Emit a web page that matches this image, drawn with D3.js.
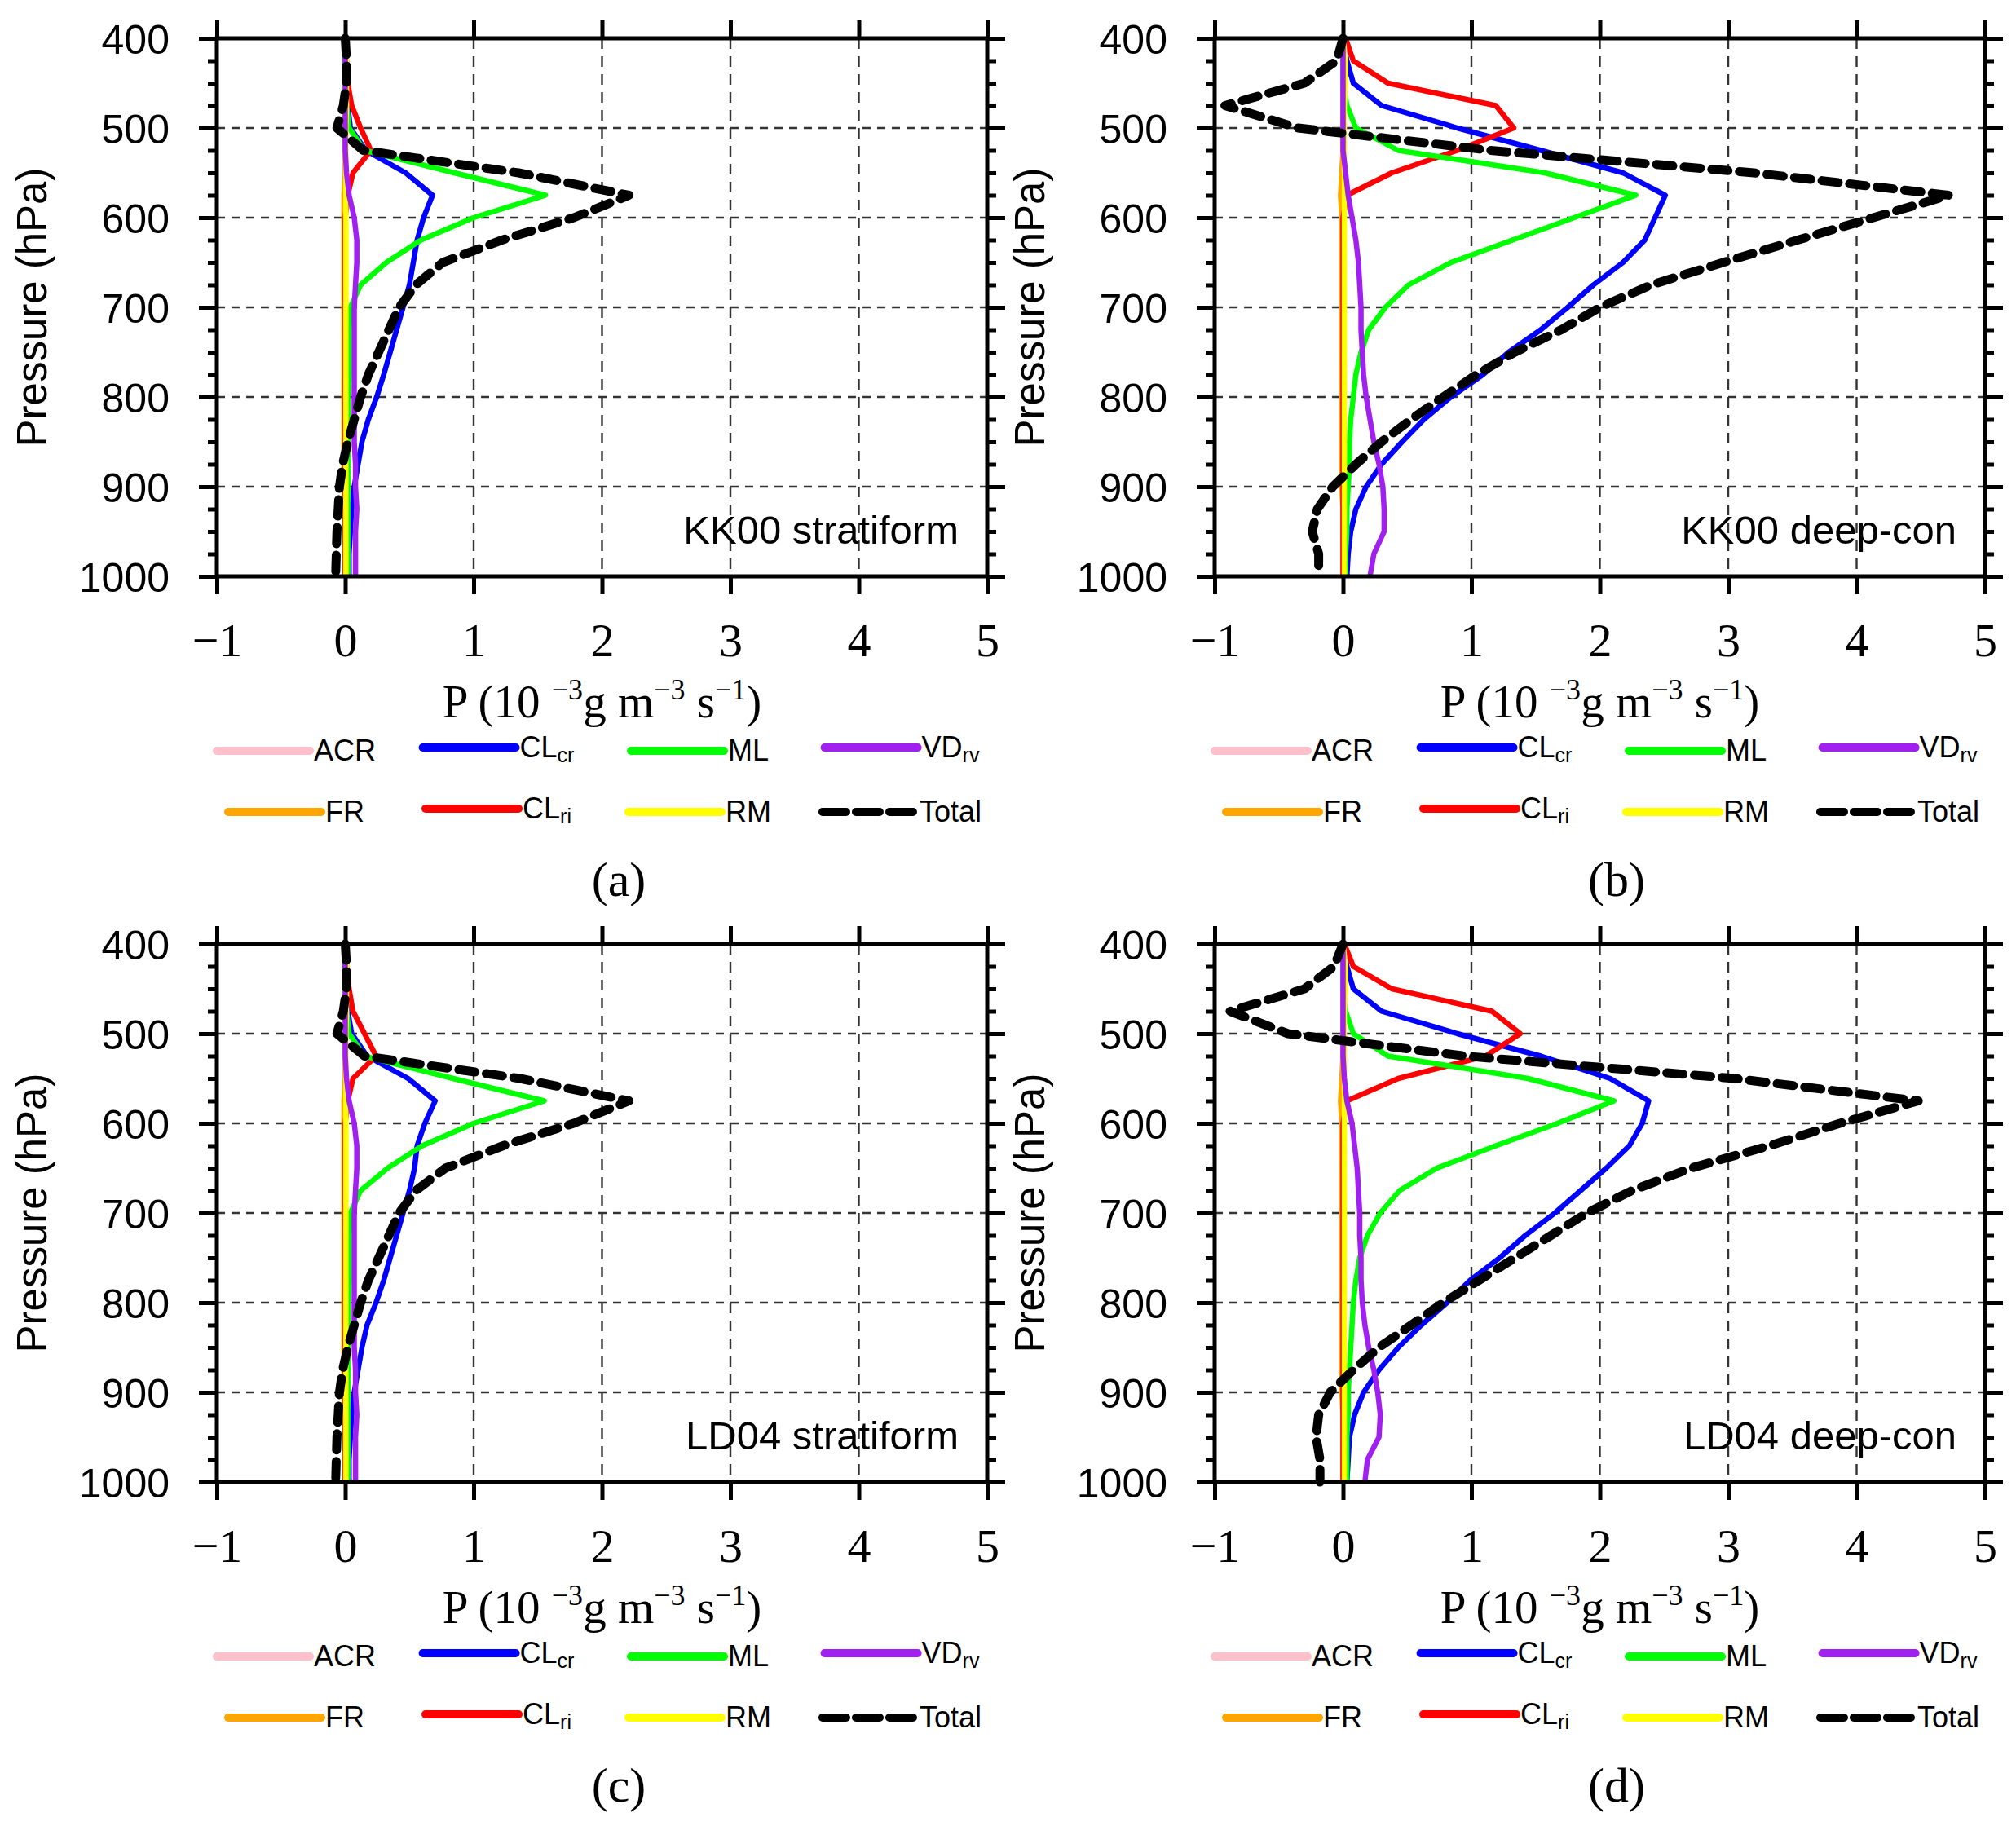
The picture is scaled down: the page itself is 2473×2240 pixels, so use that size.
<!DOCTYPE html>
<html>
<head>
<meta charset="utf-8">
<script src="https://d3js.org/d3.v7.min.js"></script>
<style>
  body { margin: 0; background: #fff; }
  .sans { font-family: "Liberation Sans", Arial, Helvetica, sans-serif; }
  .serif { font-family: "Liberation Serif", "Times New Roman", Times, serif; }
</style>
</head>
<body>
<svg id="chart" width="2473" height="2240"></svg>
<script>
// pressure levels (hPa)
const levels = [400, 425, 450, 475, 500, 525, 550, 575, 600, 625, 650, 675, 700,
  725, 750, 775, 800, 825, 850, 875, 900, 925, 950, 975, 1000];
const xTicks = [-1, 0, 1, 2, 3, 4, 5];
const yTicks = [400, 500, 600, 700, 800, 900, 1000];
const seriesNames = ['ACR', 'FR', 'CLcr', 'CLri', 'ML', 'RM', 'VDrv', 'Total'];
const seriesColors = ['#ffc0cb', '#ffa500', '#0000ff', '#ff0000', '#00ff00', '#ffff00', '#a020f0', '#000000'];

// (a) KK00 stratiform
const aACR   = [0, 0, 0, 0, 0, 0, 0, 0, 0, 0, 0, 0, 0, 0, 0, 0, 0, 0, 0, 0, 0, 0, 0, 0, 0];
const aFR    = [0, 0, 0, 0, 0, 0, 0, -0.01, -0.01, -0.01, -0.01, -0.01, -0.01, -0.01, -0.01, -0.01, -0.01, -0.01, -0.01, -0.01, -0.01, 0, 0, 0, 0];
const aCLcr  = [0, 0, 0.01, 0.02, 0.04, 0.16, 0.47, 0.68, 0.61, 0.56, 0.53, 0.5, 0.45, 0.4, 0.35, 0.3, 0.245, 0.18, 0.13, 0.1, 0.07, 0.05, 0.04, 0.03, 0.03];
const aCLri  = [0, 0.01, 0.02, 0.05, 0.12, 0.2, 0.06, 0.02, 0, 0, 0, 0, 0, 0, 0, 0, 0, 0, 0, 0, 0, 0, 0, 0, 0];
const aML    = [0, 0, 0, 0.01, 0.03, 0.15, 0.85, 1.56, 1.0, 0.59, 0.32, 0.12, 0.04, 0.03, 0.03, 0.03, 0.02, 0.02, 0.02, 0.02, 0.02, 0.02, 0.02, 0.02, 0.02];
const aRM    = [0, 0.01, 0.01, 0.01, 0.005, 0.005, 0.005, 0.005, 0.005, 0.005, 0.005, 0.005, 0.005, 0.005, 0.005, 0.005, 0.005, 0.005, 0.005, 0.005, 0.005, 0.005, 0.005, 0.005, 0.005];
const aVDrv  = [0, 0, 0, 0, 0, 0, 0.01, 0.03, 0.07, 0.09, 0.09, 0.08, 0.07, 0.07, 0.07, 0.07, 0.07, 0.07, 0.07, 0.08, 0.08, 0.09, 0.08, 0.08, 0.08];
const aTotal = [0, 0.01, 0.01, -0.015, -0.065, 0.14, 1.35, 2.21, 1.78, 1.22, 0.76, 0.55, 0.42, 0.34, 0.26, 0.18, 0.12, 0.07, 0.02, -0.02, -0.045, -0.055, -0.065, -0.07, -0.075];

// (b) KK00 deep-con
const bACR   = [0, 0, 0, 0, 0, 0, 0, 0, 0, 0, 0, 0, 0, 0, 0, 0, 0, 0, 0, 0, 0, 0, 0, 0, 0];
const bFR    = [0, 0, 0, 0, 0, 0, -0.01, -0.02, -0.01, -0.01, -0.01, -0.01, -0.01, -0.01, -0.01, -0.01, -0.01, -0.01, -0.01, -0.01, -0.01, 0, 0, 0, 0];
const bCLcr  = [0, 0.03, 0.08, 0.3, 0.89, 1.54, 2.18, 2.51, 2.43, 2.35, 2.18, 1.95, 1.75, 1.54, 1.29, 1.09, 0.84, 0.63, 0.46, 0.3, 0.18, 0.1, 0.06, 0.04, 0.03];
const bCLri  = [0.02, 0.08, 0.35, 1.19, 1.33, 0.89, 0.38, 0.03, 0, 0, 0, 0, 0, 0, 0, 0, 0, 0, 0, 0, 0, 0, 0, 0, 0];
const bML    = [0, 0, 0, 0.03, 0.1, 0.43, 1.57, 2.28, 1.8, 1.32, 0.84, 0.51, 0.33, 0.2, 0.14, 0.1, 0.08, 0.06, 0.05, 0.05, 0.04, 0.03, 0.03, 0.02, 0.02];
const bRM    = [0, 0.02, 0.02, 0.01, 0.01, 0.01, 0.01, 0.01, 0.01, 0.01, 0.01, 0.01, 0.01, 0.01, 0.01, 0.01, 0.01, 0.01, 0.01, 0.01, 0.01, 0.01, 0.01, 0.01, 0.01];
const bVDrv  = [0, 0, 0, 0, 0, 0, 0.02, 0.04, 0.07, 0.1, 0.12, 0.13, 0.14, 0.14, 0.15, 0.16, 0.18, 0.21, 0.24, 0.28, 0.31, 0.32, 0.32, 0.24, 0.21];
const bTotal = [0, -0.05, -0.3, -0.92, -0.35, 1.15, 3.2, 4.72, 4.13, 3.54, 2.96, 2.4, 2.0, 1.7, 1.34, 1.04, 0.78, 0.53, 0.3, 0.1, -0.08, -0.2, -0.24, -0.19, -0.19];

// (c) LD04 stratiform
const cACR   = [0, 0, 0, 0, 0, 0, 0, 0, 0, 0, 0, 0, 0, 0, 0, 0, 0, 0, 0, 0, 0, 0, 0, 0, 0];
const cFR    = [0, 0, 0, 0, 0, 0, 0, -0.01, -0.01, -0.01, -0.01, -0.01, -0.01, -0.01, -0.01, -0.01, -0.01, -0.01, -0.01, -0.01, -0.01, 0, 0, 0, 0];
const cCLcr  = [0, 0, 0.01, 0.02, 0.05, 0.17, 0.49, 0.7, 0.62, 0.56, 0.54, 0.5, 0.45, 0.4, 0.35, 0.3, 0.24, 0.17, 0.13, 0.1, 0.07, 0.05, 0.04, 0.03, 0.03];
const cCLri  = [0, 0.01, 0.03, 0.06, 0.15, 0.24, 0.06, 0.02, 0, 0, 0, 0, 0, 0, 0, 0, 0, 0, 0, 0, 0, 0, 0, 0, 0];
const cML    = [0, 0, 0, 0.01, 0.03, 0.15, 0.84, 1.55, 1.0, 0.6, 0.33, 0.12, 0.04, 0.03, 0.03, 0.03, 0.02, 0.02, 0.02, 0.02, 0.02, 0.02, 0.02, 0.02, 0.02];
const cRM    = [0, 0.01, 0.01, 0.01, 0.005, 0.005, 0.005, 0.005, 0.005, 0.005, 0.005, 0.005, 0.005, 0.005, 0.005, 0.005, 0.005, 0.005, 0.005, 0.005, 0.005, 0.005, 0.005, 0.005, 0.005];
const cVDrv  = [0, 0, 0, 0, 0, 0, 0.01, 0.03, 0.07, 0.09, 0.09, 0.08, 0.07, 0.07, 0.07, 0.07, 0.07, 0.07, 0.07, 0.08, 0.08, 0.09, 0.08, 0.08, 0.08];
const cTotal = [0, 0.01, 0.01, -0.015, -0.065, 0.15, 1.36, 2.21, 1.78, 1.23, 0.78, 0.55, 0.42, 0.34, 0.26, 0.18, 0.12, 0.07, 0.02, -0.02, -0.045, -0.055, -0.065, -0.07, -0.075];

// (d) LD04 deep-con
const dACR   = [0, 0, 0, 0, 0, 0, 0, 0, 0, 0, 0, 0, 0, 0, 0, 0, 0, 0, 0, 0, 0, 0, 0, 0, 0];
const dFR    = [0, 0, 0, 0, 0, 0, -0.01, -0.02, -0.01, -0.01, -0.01, -0.01, -0.01, -0.01, -0.01, -0.01, -0.01, -0.01, -0.01, -0.01, -0.01, 0, 0, 0, 0];
const dCLcr  = [0, 0.03, 0.08, 0.3, 0.89, 1.54, 2.08, 2.38, 2.33, 2.23, 2.05, 1.85, 1.65, 1.42, 1.22, 0.99, 0.81, 0.61, 0.43, 0.28, 0.16, 0.09, 0.05, 0.04, 0.03];
const dCLri  = [0.01, 0.08, 0.38, 1.16, 1.38, 1.11, 0.43, 0.03, 0, 0, 0, 0, 0, 0, 0, 0, 0, 0, 0, 0, 0, 0, 0, 0, 0];
const dML    = [0, 0, 0, 0.02, 0.08, 0.35, 1.44, 2.11, 1.67, 1.19, 0.73, 0.44, 0.29, 0.19, 0.13, 0.1, 0.08, 0.07, 0.06, 0.05, 0.04, 0.04, 0.03, 0.03, 0.03];
const dRM    = [0, 0.02, 0.02, 0.01, 0.01, 0.01, 0.01, 0.01, 0.01, 0.01, 0.01, 0.01, 0.01, 0.01, 0.01, 0.01, 0.01, 0.01, 0.01, 0.01, 0.01, 0.01, 0.01, 0.01, 0.01];
const dVDrv  = [0, 0, 0, 0, 0, 0, 0.01, 0.03, 0.07, 0.09, 0.11, 0.12, 0.13, 0.13, 0.14, 0.14, 0.15, 0.17, 0.2, 0.24, 0.27, 0.29, 0.28, 0.19, 0.17];
const dTotal = [0, -0.07, -0.3, -0.88, -0.43, 0.95, 3.05, 4.48, 3.87, 3.32, 2.71, 2.25, 1.9, 1.62, 1.34, 1.06, 0.78, 0.53, 0.28, 0.08, -0.1, -0.19, -0.21, -0.18, -0.18];

const panels = [
  { tag: '(a)', name: 'KK00 stratiform', left: 266, top: 47, series: [aACR, aFR, aCLcr, aCLri, aML, aRM, aVDrv, aTotal] },
  { tag: '(b)', name: 'KK00 deep-con', left: 1490, top: 47, series: [bACR, bFR, bCLcr, bCLri, bML, bRM, bVDrv, bTotal] },
  { tag: '(c)', name: 'LD04 stratiform', left: 266, top: 1158, series: [cACR, cFR, cCLcr, cCLri, cML, cRM, cVDrv, cTotal] },
  { tag: '(d)', name: 'LD04 deep-con', left: 1490, top: 1158, series: [dACR, dFR, dCLcr, dCLri, dML, dRM, dVDrv, dTotal] }
];

const plotW = 945;
const plotH = 660;
const svg = d3.select('#chart');

panels.forEach(function(p) {
  const g = svg.append('g').attr('transform', 'translate(' + p.left + ',' + p.top + ')');

  const x = d3.scaleLinear().domain([-1, 5]).range([0, plotW]);
  const y = d3.scaleLinear().domain([400, 1000]).range([0, plotH]);

  // grid
  g.selectAll('.vgrid')
    .data(xTicks.slice(1, -1))
    .enter().append('line')
    .attr('x1', d => x(d)).attr('x2', d => x(d))
    .attr('y1', 0).attr('y2', plotH)
    .attr('stroke', '#333').attr('stroke-width', 2.4)
    .attr('stroke-dasharray', '13,9');
  g.selectAll('.hgrid')
    .data(yTicks.slice(1, -1))
    .enter().append('line')
    .attr('x1', 0).attr('x2', plotW)
    .attr('y1', d => y(d)).attr('y2', d => y(d))
    .attr('stroke', '#333').attr('stroke-width', 2.4)
    .attr('stroke-dasharray', '10,8');

  // profiles
  const line = d3.line()
    .x(d => x(d[0]))
    .y(d => y(d[1]));
  p.series.forEach(function(vals, i) {
    const pts = vals.map((v, k) => [v, levels[k]]);
    const isTotal = seriesNames[i] === 'Total';
    g.append('path')
      .datum(pts)
      .attr('d', line)
      .attr('fill', 'none')
      .attr('stroke', seriesColors[i])
      .attr('stroke-width', isTotal ? 11 : 6.5)
      .attr('stroke-linejoin', 'round')
      .attr('stroke-linecap', isTotal ? 'round' : 'butt')
      .attr('stroke-dasharray', isTotal ? '20,14' : null);
  });

  // axes, ticks pointing outward
  const minor = levels.filter(d => yTicks.indexOf(d) < 0);
  const styleAxis = function(sel) {
    sel.select('.domain').remove();
    sel.selectAll('line').attr('stroke', '#000').attr('stroke-width', 5);
  };
  g.append('g')
    .attr('class', 'sans')
    .call(d3.axisLeft(y).tickValues(yTicks).tickSize(22).tickPadding(36).tickFormat(d3.format('d')))
    .call(styleAxis)
    .call(s => s.selectAll('text').attr('font-size', 50).attr('fill', '#000').attr('dy', '0.36em'));
  g.append('g')
    .call(d3.axisLeft(y).tickValues(minor).tickSize(11).tickFormat(''))
    .call(styleAxis);
  g.append('g')
    .attr('transform', 'translate(' + plotW + ',0)')
    .call(d3.axisRight(y).tickValues(yTicks).tickSize(22).tickFormat(''))
    .call(styleAxis);
  g.append('g')
    .attr('transform', 'translate(' + plotW + ',0)')
    .call(d3.axisRight(y).tickValues(minor).tickSize(11).tickFormat(''))
    .call(styleAxis);
  g.append('g')
    .call(d3.axisTop(x).tickValues(xTicks).tickSize(22).tickFormat(''))
    .call(styleAxis);
  g.append('g')
    .attr('class', 'serif')
    .attr('transform', 'translate(0,' + plotH + ')')
    .call(d3.axisBottom(x).tickValues(xTicks).tickSize(22).tickFormat(d3.format('d')))
    .call(styleAxis)
    .call(s => s.selectAll('text').attr('font-size', 58).attr('fill', '#000').attr('y', 98).attr('dy', null));

  // frame
  g.append('rect')
    .attr('width', plotW).attr('height', plotH)
    .attr('fill', 'none').attr('stroke', '#000').attr('stroke-width', 5);

  // case name
  g.append('text')
    .attr('class', 'sans')
    .attr('x', plotW - 35).attr('y', plotH - 40)
    .attr('text-anchor', 'end')
    .attr('font-size', 49)
    .text(p.name);

  // y title
  g.append('text')
    .attr('class', 'sans')
    .attr('transform', 'translate(-209,' + plotH / 2 + ') rotate(-90)')
    .attr('text-anchor', 'middle')
    .attr('font-size', 51)
    .text('Pressure (hPa)');

  // x title
  const xt = g.append('text')
    .attr('class', 'serif')
    .attr('x', plotW / 2).attr('y', plotH + 173)
    .attr('text-anchor', 'middle')
    .attr('font-size', 57);
  xt.append('tspan').text('P (10 ');
  xt.append('tspan').attr('font-size', 36).attr('dy', -22).text('\u22123');
  xt.append('tspan').attr('dy', 22).text('g m');
  xt.append('tspan').attr('font-size', 36).attr('dy', -22).text('\u22123');
  xt.append('tspan').attr('dy', 22).text(' s');
  xt.append('tspan').attr('font-size', 36).attr('dy', -22).text('\u22121');
  xt.append('tspan').attr('dy', 22).text(')');

  // legend, two rows, four columns
  const colCenters = [95, 343, 590, 838];
  const rowYs = [plotH + 214, plotH + 289];
  const subs = { CLcr: ['CL', 'cr'], CLri: ['CL', 'ri'], VDrv: ['VD', 'rv'] };
  seriesNames.forEach(function(nm, i) {
    const col = Math.floor(i / 2);
    const row = i % 2;
    const cy = rowYs[row];
    const item = g.append('g');
    const label = item.append('text').attr('class', 'sans').attr('font-size', 36);
    let lineY = cy;
    if (subs[nm]) {
      lineY = cy - 4;
      label.attr('y', cy + 8);
      label.append('tspan').text(subs[nm][0]);
      label.append('tspan').attr('font-size', 25).attr('dy', 6).text(subs[nm][1]);
    } else {
      label.attr('y', cy + 12).text(nm);
    }
    const tw = label.node().getComputedTextLength();
    const lineLen = 124;
    const start = colCenters[col] - (lineLen + tw) / 2;
    label.attr('x', start + lineLen);
    item.insert('line', 'text')
      .attr('x1', start + 5).attr('x2', start + lineLen - 5)
      .attr('y1', lineY).attr('y2', lineY)
      .attr('stroke', seriesColors[i])
      .attr('stroke-width', 10)
      .attr('stroke-linecap', 'round')
      .attr('stroke-dasharray', nm === 'Total' ? '29,12' : null);
  });

  // panel tag
  g.append('text')
    .attr('class', 'serif')
    .attr('x', 493).attr('y', plotH + 392)
    .attr('text-anchor', 'middle')
    .attr('font-size', 60)
    .text(p.tag);
});
</script>
</body>
</html>
